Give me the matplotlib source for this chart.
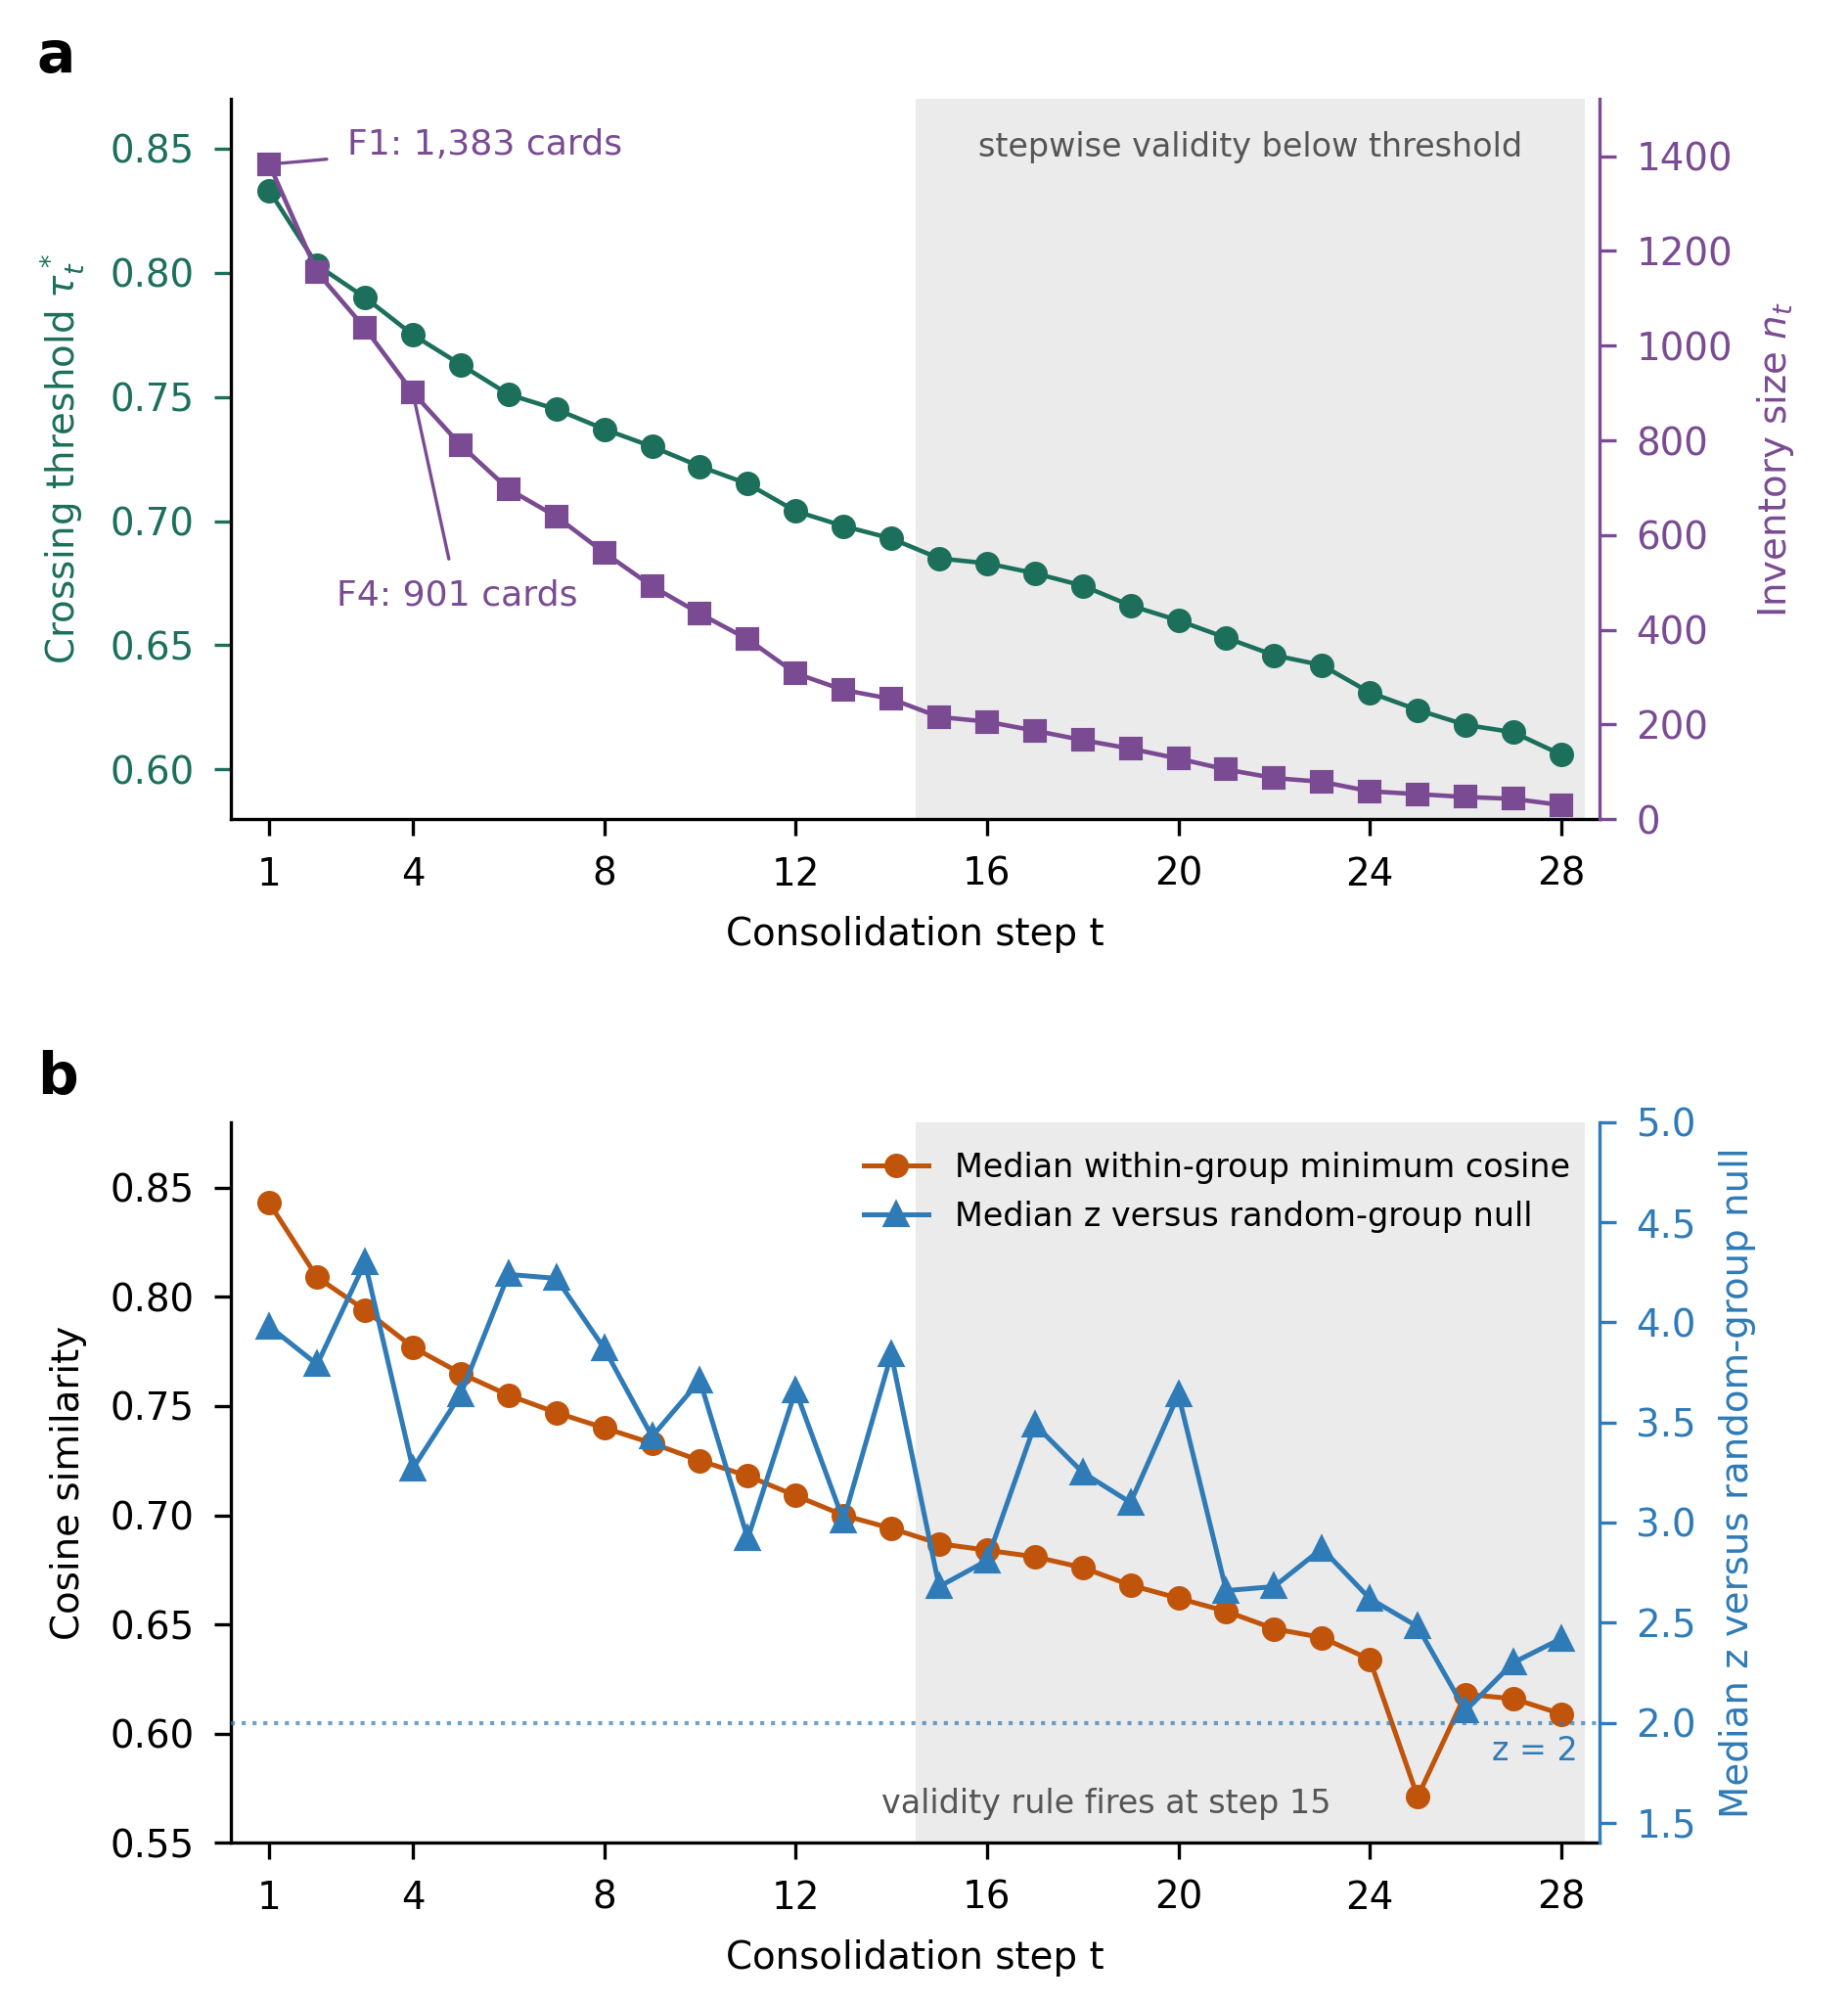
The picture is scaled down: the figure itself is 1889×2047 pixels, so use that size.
import numpy as np
import matplotlib
matplotlib.use("Agg")
import matplotlib.pyplot as plt

# data
steps = list(range(1, 29))
tau_star = [0.833, 0.803, 0.790, 0.775, 0.763, 0.751, 0.745, 0.737, 0.730, 0.722,
            0.715, 0.704, 0.698, 0.693, 0.685, 0.683, 0.679, 0.674, 0.666, 0.660,
            0.653, 0.646, 0.642, 0.631, 0.624, 0.618, 0.615, 0.606]
inventory = [1383, 1155, 1037, 901, 790, 697, 639, 563, 492, 434,
             380, 308, 273, 254, 216, 206, 187, 167, 149, 128,
             105, 87, 79, 59, 53, 47, 43, 30]
min_cosine = [0.843, 0.809, 0.794, 0.777, 0.765, 0.755, 0.747, 0.740, 0.733, 0.725,
              0.718, 0.709, 0.700, 0.694, 0.687, 0.684, 0.681, 0.676, 0.668, 0.662,
              0.656, 0.648, 0.644, 0.634, 0.571, 0.618, 0.616, 0.609]
median_z = [3.98, 3.79, 4.30, 3.27, 3.64, 4.24, 4.22, 3.87, 3.43, 3.71,
            2.92, 3.66, 3.01, 3.84, 2.68, 2.81, 3.49, 3.25, 3.10, 3.64,
            2.66, 2.68, 2.87, 2.62, 2.48, 2.06, 2.30, 2.42]
xticks = [1, 4, 8, 12, 16, 20, 24, 28]
fire_step = 15

green = "#1c6f5b"
purple = "#7a4b93"
orange = "#c1540b"
blue = "#2f7bb7"
shade = "#ebebeb"

plt.rcParams["font.family"] = "DejaVu Sans"
plt.rcParams["font.size"] = 9.3
plt.rcParams["axes.linewidth"] = 0.8
plt.rcParams["axes.labelpad"] = 5.5
plt.rcParams["xtick.major.width"] = 0.8
plt.rcParams["ytick.major.width"] = 0.8
plt.rcParams["xtick.major.size"] = 4
plt.rcParams["ytick.major.size"] = 4
plt.rcParams["xtick.major.pad"] = 5
plt.rcParams["ytick.major.pad"] = 5

fig = plt.figure(figsize=(1889 / 300, 2047 / 300), dpi=300)
ax1 = fig.add_axes([0.125, 0.591, 0.7405, 0.3597])
ax3 = fig.add_axes([0.125, 0.080, 0.7405, 0.3597])

# ---- panel a ----
ax1.axvspan(fire_step - 0.5, 28.5, color=shade, lw=0, zorder=0)
ax1.plot(steps, tau_star, "-o", color=green, lw=1.1, ms=5, zorder=3)
ax1.set_xlim(0.2, 28.8)
ax1.set_ylim(0.58, 0.87)
ax1.set_yticks([0.60, 0.65, 0.70, 0.75, 0.80, 0.85])
ax1.set_xticks(xticks)
ax1.set_ylabel(r"Crossing threshold $\tau_t^*$", color=green)
ax1.tick_params(axis="y", colors=green)
ax1.set_xlabel("Consolidation step t")
ax1.spines["top"].set_visible(False)
ax1.spines["right"].set_visible(False)
ax1.text(21.5, 0.933, "stepwise validity below threshold", transform=ax1.get_xaxis_transform(),
         ha="center", va="center", fontsize=8, color="#555555")

ax2 = ax1.twinx()
ax2.plot(steps, inventory, "-s", color=purple, lw=1.1, ms=4.8, zorder=3)
ax2.set_ylim(0, max(inventory) * 1.1)
ax2.set_ylabel(r"Inventory size $n_t$", color=purple)
ax2.tick_params(axis="y", colors=purple)
ax2.spines["right"].set_color(purple)
ax2.spines["top"].set_visible(False)
ax2.spines["left"].set_visible(False)
ax2.spines["bottom"].set_visible(False)
ax2.annotate("F1: 1,383 cards", xy=(1, inventory[0]), xytext=(5.5, 1423),
             ha="center", va="center", color=purple, fontsize=8.7,
             arrowprops=dict(arrowstyle="-", color=purple, lw=0.8, shrinkA=3, shrinkB=0))
ax2.annotate("F4: 901 cards", xy=(4, inventory[3]), xytext=(4.92, 472),
             ha="center", va="center", color=purple, fontsize=8.7,
             arrowprops=dict(arrowstyle="-", color=purple, lw=0.8, shrinkA=3, shrinkB=0))

# ---- panel b ----
ax3.axvspan(fire_step - 0.5, 28.5, color=shade, lw=0, zorder=0)
l1, = ax3.plot(steps, min_cosine, "-o", color=orange, lw=1.2, ms=5, zorder=3,
               label="Median within-group minimum cosine")
ax3.set_xlim(0.2, 28.8)
ax3.set_ylim(0.55, 0.88)
ax3.set_yticks([0.55, 0.60, 0.65, 0.70, 0.75, 0.80, 0.85])
ax3.set_xticks(xticks)
ax3.set_ylabel("Cosine similarity")
ax3.set_xlabel("Consolidation step t")
ax3.spines["top"].set_visible(False)
ax3.spines["right"].set_visible(False)
ax3.text(18.5, 0.054, "validity rule fires at step 15", transform=ax3.get_xaxis_transform(),
         ha="center", va="center", fontsize=8, color="#555555")

ax4 = ax3.twinx()
l2, = ax4.plot(steps, median_z, "-^", color=blue, lw=1.2, ms=5.5, zorder=3,
               label="Median z versus random-group null")
ax4.axhline(2.0, color=blue, lw=1.0, ls=":", alpha=0.7)
ax4.text(28.35, 1.86, "z = 2", ha="right", va="center", color=blue, fontsize=8)
ax4.set_ylim(1.4, 5.0)
ax4.set_yticks([1.5, 2.0, 2.5, 3.0, 3.5, 4.0, 4.5, 5.0])
ax4.set_ylabel("Median z versus random-group null", color=blue)
ax4.tick_params(axis="y", colors=blue)
ax4.spines["right"].set_color(blue)
ax4.spines["top"].set_visible(False)
ax4.spines["left"].set_visible(False)
ax4.spines["bottom"].set_visible(False)
ax4.legend(handles=[l1, l2], loc="upper right", frameon=False, fontsize=8)

fig.text(0.02, 0.972, "a", fontsize=14, fontweight="bold", va="center")
fig.text(0.02, 0.462, "b", fontsize=14, fontweight="bold", va="center")

fig.savefig("out.png", dpi=300)
